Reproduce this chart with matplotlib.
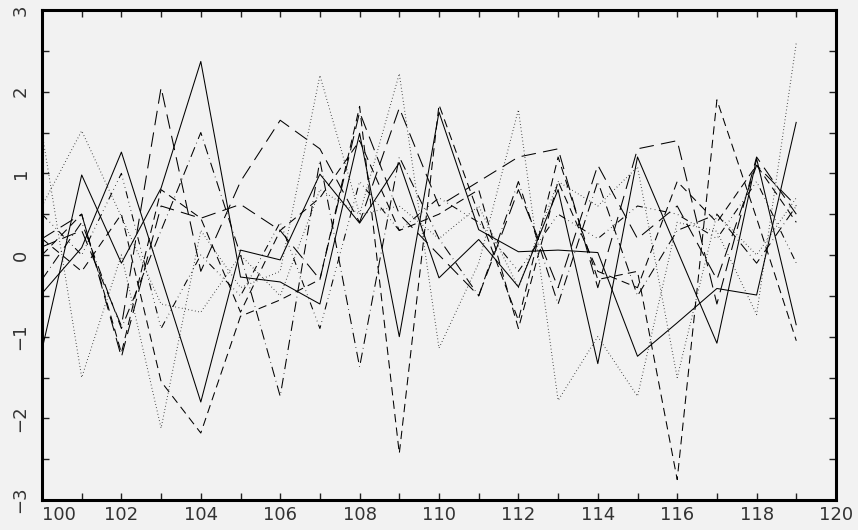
import numpy as np
import matplotlib
matplotlib.use("Agg")
import matplotlib.pyplot as plt
from matplotlib.ticker import MultipleLocator

x = np.arange(100, 120)

solid_a = [-1.16, 0.98, -0.10, 0.82, 2.37, -0.27, -0.33, -0.60, 1.49, -1.00,
           1.75, 0.31, 0.04, 0.06, 0.03, -1.24, -0.83, -0.41, -0.49, 1.63]
solid_b = [-0.47, 0.09, 1.26, -0.27, -1.80, 0.06, -0.06, 0.99, 0.39, 1.13,
           -0.28, 0.19, -0.39, 0.80, -1.33, 1.20, 0.06, -1.08, 1.18, -0.86]
dashed_a = [0.20, -0.20, 0.50, -1.55, -2.18, -0.75, -0.55, -0.30, 1.82, -2.43,
            1.84, 0.50, -0.80, 1.20, -0.30, -0.20, -2.75, 1.90, 0.45, -1.05]
dashed_b = [0.00, 0.50, -1.20, 0.80, 0.45, -0.70, 0.30, 0.70, 1.40, 0.30,
            0.50, 0.80, -0.90, 0.90, -0.20, -0.40, 0.90, 0.40, 1.10, 0.40]
longdash_a = [0.10, 0.30, -0.87, 2.05, -0.20, 0.90, 1.65, 1.30, 0.40, 1.80,
              0.60, 0.90, 1.20, 1.30, -0.40, 1.30, 1.40, -0.60, 1.20, 0.50]
longdash_b = [0.20, 0.50, -1.25, 0.60, 0.45, 0.62, 0.30, -0.30, 1.75, 0.50,
              0.00, -0.50, 0.80, -0.40, 1.10, 0.20, 0.60, -0.30, 1.10, 0.60]
dotted_a = [1.50, -1.50, 0.00, -2.12, 0.30, -0.40, -0.20, 2.20, 0.50, 2.22,
            -1.14, -0.10, 1.78, -1.78, -1.00, -1.73, 0.40, 0.29, -0.73, 2.60]
dotted_b = [0.60, 1.52, 0.47, -0.60, -0.70, 0.00, -0.50, 0.80, 0.50, 0.60,
            0.20, 0.60, -0.40, 0.90, 0.60, 1.08, -1.50, 0.50, 0.00, 0.70]
dashdot_a = [-0.30, 0.40, -0.90, 0.30, 1.50, 0.00, -1.73, 1.16, -1.37, 1.20,
             0.20, -0.50, 0.90, -0.60, 0.90, -0.50, 0.30, 0.50, -0.10, 0.60]
dashdot_b = [0.50, 0.00, 1.00, -0.90, 0.00, -0.50, 0.40, -0.90, 0.90, 0.30,
             0.70, 0.40, -0.20, 0.50, 0.20, 0.60, 0.50, 0.20, 0.90, -0.10]

xtick_pos = list(range(100, 121, 2))
xtick_labels = [str(v) for v in xtick_pos]
ytick_pos = list(range(-3, 4))
ytick_labels = [str(v).replace("-", "\u2212") for v in ytick_pos]

series = [
    (solid_a, (0, ())),
    (solid_b, (0, ())),
    (dashed_a, (0, (8, 5))),
    (dashed_b, (0, (8, 5))),
    (longdash_a, (0, (14, 7))),
    (longdash_b, (0, (14, 7))),
    (dotted_a, (0, (0.6, 2.6))),
    (dotted_b, (0, (0.6, 2.6))),
    (dashdot_a, (0, (10, 4, 0.6, 4))),
    (dashdot_b, (0, (7, 3.5, 0.6, 3.5, 0.6, 3.5, 0.6, 3.5))),
]

bg = "#f2f2f2"
txt = "#333333"
fig = plt.figure(figsize=(8.58, 5.30), dpi=100, facecolor=bg)
ax = fig.add_axes([42 / 858, 30 / 530, 794 / 858, 490 / 530], facecolor=bg)

for vals, ls in series:
    ax.plot(x, vals, color="black", linewidth=0.75, linestyle=ls)

ax.set_xlim(100, 120)
ax.set_ylim(-3, 3)
ax.xaxis.set_minor_locator(MultipleLocator(1))
ax.yaxis.set_minor_locator(MultipleLocator(0.5))

for s in ax.spines.values():
    s.set_linewidth(2.2)
ax.tick_params(which="both", direction="in", top=True, right=True,
               width=1, length=5, color="#222222")
ax.tick_params(which="major", labelsize=13, labelcolor=txt)
ax.tick_params(axis="x", which="major", pad=4)
ax.tick_params(axis="y", which="major", pad=9)

ax.set_xticks(xtick_pos)
xl = ax.set_xticklabels(xtick_labels)
xl[0].set_horizontalalignment("left")
ax.set_yticks(ytick_pos)
ax.set_yticklabels(ytick_labels, rotation=90, va="center")

fig.savefig("out.png", dpi=100, facecolor=bg)
